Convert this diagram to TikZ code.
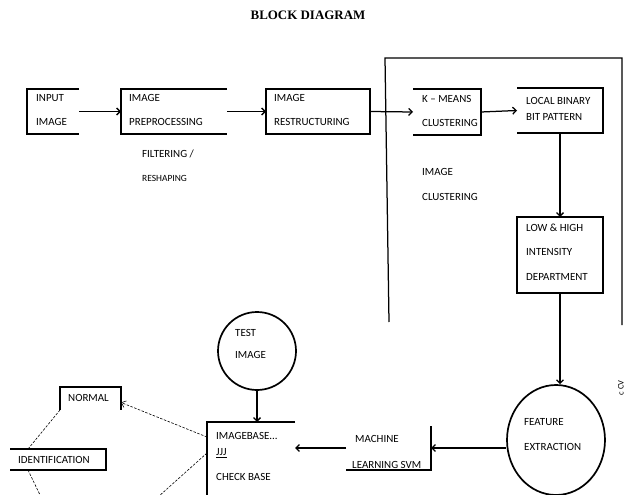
\documentclass[tikz,border=0pt]{standalone}
\usepackage{fontspec}
\setmainfont{Liberation Serif}
\newfontfamily\boxfam{Carlito}
\usetikzlibrary{arrows.meta,shapes.geometric}
\newcommand{\bxfont}{\boxfam\fontsize{11}{12}\selectfont}
\begin{document}
\begin{tikzpicture}[x=1bp,y=-1bp,
  box/.style={draw=none, inner sep=0, outer sep=0, anchor=north west},
  lbl/.style={anchor=west, inner sep=0, font=\bxfont},
  ln/.style={line width=1.25bp},
  arr/.style={ln, -{Straight Barb[length=3.5bp,width=7bp]}},
  dsh/.style={line width=0.6bp, dash pattern=on 2.5bp off 1.5bp},
  darr/.style={dsh, -{Straight Barb[length=4bp,width=7bp]}},
  rnd/.style={draw, ellipse, line width=1.7bp, inner sep=0}]
\useasboundingbox (0,0) rectangle (632,495);
\clip (0,0) rectangle (632,495);

% title
\node[font=\bfseries\fontsize{13}{15}\selectfont, inner sep=0] (title) at (308,15) {BLOCK DIAGRAM};

% boxes (top row)
\node[box, minimum width=52bp, minimum height=45bp] (in) at (27,89) {};
\node[box, minimum width=106bp, minimum height=45bp] (pre) at (121,89) {};
\node[box, minimum width=104bp, minimum height=45bp] (res) at (266,89) {};
\node[box, minimum width=68bp, minimum height=46bp] (km) at (413,89) {};
\node[box, minimum width=86bp, minimum height=45bp] (lbp) at (517,88) {};
\node[box, minimum width=86bp, minimum height=76bp] (lh) at (517,217) {};

\draw[ln] (in.north east) -- (in.north west) -- (in.south west) -- (in.south east);
\draw[ln] (pre.north east) -- (pre.north west) -- (pre.south west) -- (pre.south east);
\draw[ln] (res.north west) rectangle (res.south east);
\draw[ln] (km.north west) -- (km.north east) -- (km.south east) -- (km.south west);
\draw[ln] (lbp.north west) -- (lbp.north east) -- (lbp.south east) -- (lbp.south west);
\draw[ln] (lh.north west) rectangle (lh.south east);

\node[lbl] (t1) at (36,98) {INPUT};
\node[lbl] (t2) at (36,122) {IMAGE};
\node[lbl] (t3) at (129,98) {IMAGE};
\node[lbl] (t4) at (129,122) {PREPROCESSING};
\node[lbl] (t5) at (142,154) {FILTERING /};
\node[lbl, font=\boxfam\fontsize{9.5}{10}\selectfont] (t6) at (142,178) {RESHAPING};
\node[lbl] (t7) at (274,98) {IMAGE};
\node[lbl] (t8) at (274,122) {RESTRUCTURING};
\node[lbl] (t9) at (422,99) {K – MEANS};
\node[lbl] (t10) at (422,123) {CLUSTERING};
\node[lbl] (t11) at (422,172) {IMAGE};
\node[lbl] (t12) at (422,197) {CLUSTERING};
\node[lbl] (t13) at (526,101) {LOCAL BINARY};
\node[lbl] (t14) at (526,117) {BIT PATTERN};
\node[lbl] (t15) at (526,228) {LOW \& HIGH};
\node[lbl] (t16) at (526,252) {INTENSITY};
\node[lbl] (t17) at (526,277) {DEPARTMENT};

% frame
\draw[ln] (389,322) -- (385,58) -- (622,58) -- (622,325);
\node[rotate=90, inner sep=0, font=\boxfam\fontsize{8.5}{9}\selectfont] (cv) at (621,388) {c CV};

% lower part
\node[rnd, minimum width=98bp, minimum height=110bp] (fe) at (556,440) {};
\node[lbl] (t18) at (524,422) {FEATURE};
\node[lbl] (t19) at (524,447) {EXTRACTION};

\node[box, minimum width=85bp, minimum height=44bp] (ml) at (346,426) {};
\draw[ln] (ml.north east) -- (ml.south east) -- (ml.south west);
\node[lbl] (t20) at (355,439) {MACHINE};
\node[lbl] (t21) at (352,465) {LEARNING SVM};

\node[rnd, minimum width=78bp, minimum height=78bp] (ti) at (257,351) {};
\node[lbl] (t22) at (235,333) {TEST};
\node[lbl] (t23) at (235,355) {IMAGE};

\node[box, minimum width=88bp, minimum height=75bp] (ib) at (207,422) {};
\draw[ln] (ib.north east) -- (ib.north west) -- (ib.south west);
\node[lbl] (t24) at (216,436) {IMAGEBASE...};
\node[lbl] (t25) at (216,453) {\underline{JJJ}};
\node[lbl] (t26) at (216,477) {CHECK BASE};

\node[box, minimum width=61bp, minimum height=23bp] (no) at (60,387) {};
\draw[ln] (no.south west) -- (no.north west) -- (no.north east) -- (no.south east);
\node[lbl] (t27) at (68,398) {NORMAL};

\node[box, minimum width=96bp, minimum height=21bp] (id) at (10,449) {};
\draw[ln] (id.north west) -- (id.north east) -- (id.south east) -- (id.south west);
\node[lbl] (t28) at (18,460) {IDENTIFICATION};

\coordinate (d1) at (41,497);
\coordinate (d2) at (158,497);

% connectors
\draw[arr] (in.east) -- (pre.west);
\draw[arr] (pre.east) -- (res.west);
\draw[arr] (res.east) -- (km.west);
\draw[arr] (km.east) -- (lbp.west);
\draw[arr] (lbp.south) -- (lh.north);
\draw[arr] (lh.south) -- (lh.south |- fe.north);
\draw[arr] (fe.west |- ml.east) -- (ml.east);
\draw[arr] (ml.west) -- (ml.west -| ib.east);
\draw[arr] (ti.south) -- (ti.south |- ib.north);
\draw[darr] ([yshift=-15bp]ib.north west) -- ([yshift=-4bp]no.east);
\draw[dsh] ([xshift=18bp]id.north west) -- (no.south west);
\draw[dsh] ([xshift=18bp]id.south west) -- (d1);
\draw[dsh] ([yshift=-31bp]ib.north west) -- (d2);
\end{tikzpicture}
\end{document}
